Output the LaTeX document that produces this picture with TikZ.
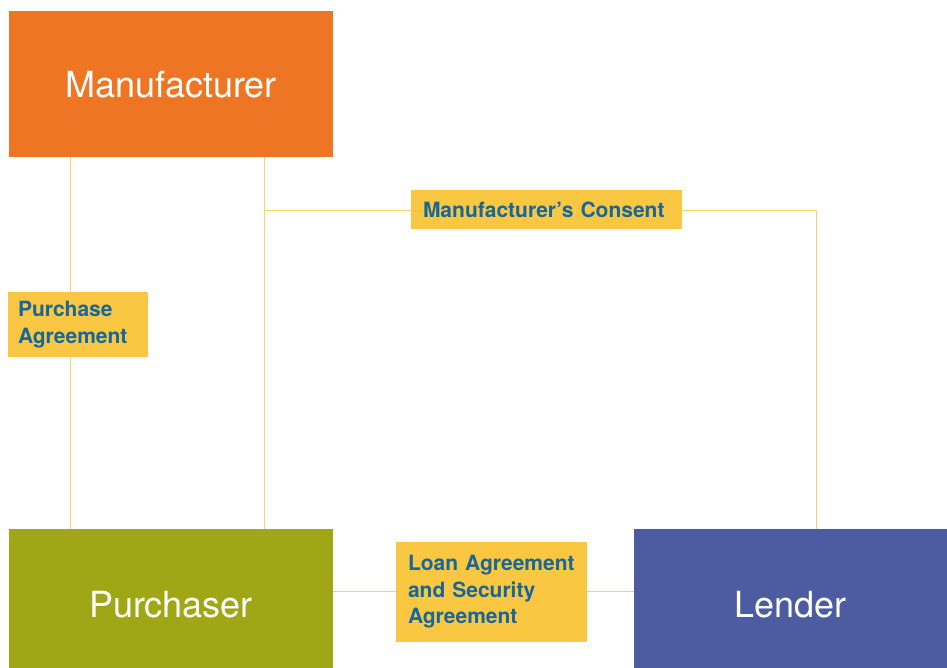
\documentclass[tikz,border=0pt]{standalone}
\usepackage{fontspec}
\setmainfont{TeX Gyre Heros}
\usepackage{xcolor}
\usepackage{tikz}
\definecolor{party1}{RGB}{238,117,35}
\definecolor{party2}{RGB}{160,167,22}
\definecolor{party3}{RGB}{77,92,160}
\definecolor{doc}{RGB}{249,199,65}
\definecolor{doctext}{RGB}{23,103,154}
\definecolor{link}{RGB}{249,210,106}
\tikzset{
  party/.style={fill=#1, text=white, font=\fontsize{36}{40}\selectfont, inner sep=0pt, text depth=0pt},
  docbox/.style={fill=doc, text=doctext, font=\bfseries\fontsize{21}{26.5}\selectfont, align=left, inner ysep=0pt},
  linkline/.style={draw=link, line width=1pt}
}
\begin{document}
\begin{tikzpicture}[x=1pt, y=-1pt]
\useasboundingbox (0,0) rectangle (947,668);

\node[party=party1, minimum width=324pt, minimum height=146pt] (man) at (171,84) {Manufacturer};
\node[party=party2, minimum width=324pt, minimum height=150pt] (pur) at (171,604) {Purchaser};
\node[party=party3, minimum width=313pt, minimum height=150pt] (len) at (790.5,604) {Lender};

\coordinate (pa line) at (70,0);
\coordinate (c1) at (264,211);
\coordinate (c2) at (816,211);
\coordinate (loan line) at (0,591);

\draw[linkline] (man.south -| pa line) -- (pur.north -| pa line);
\draw[linkline] (man.south -| c1) -- (pur.north -| c1);
\draw[linkline] (c1) -- (c2) -- (len.north -| c2);
\draw[linkline] (pur.east |- loan line) -- (len.west |- loan line);

\node[docbox, inner xsep=10pt, text width=120pt, minimum height=65pt] (pa) at (78,324.5) {Purchase\\Agreement};
\node[docbox, inner xsep=12pt, text width=247pt, minimum height=39pt] (cons) at (546.5,209.5) {Manufacturer’s Consent};
\node[docbox, inner xsep=12pt, text width=167pt, minimum height=100pt] (loan) at (491.5,592) {Loan Agreement\\and Security\\Agreement};
\end{tikzpicture}
\end{document}
